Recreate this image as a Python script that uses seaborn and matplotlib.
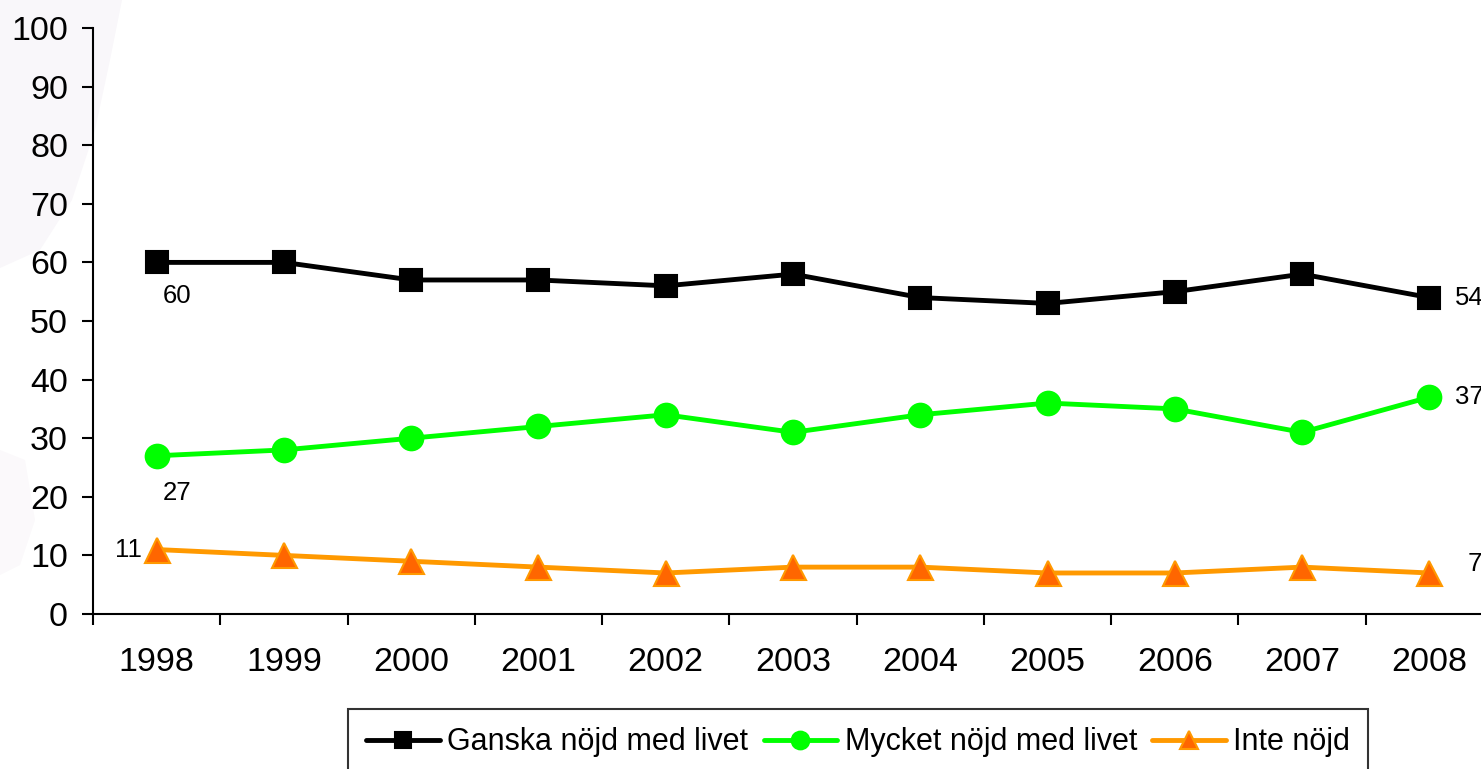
import matplotlib
matplotlib.use("Agg")
import matplotlib.pyplot as plt
from matplotlib.patches import Polygon
import seaborn as sns
import pandas as pd
import numpy as np

years = ["1998", "1999", "2000", "2001", "2002", "2003", "2004", "2005", "2006", "2007", "2008"]
ganska = [60, 60, 57, 57, 56, 58, 54, 53, 55, 58, 54]
mycket = [27, 28, 30, 32, 34, 31, 34, 36, 35, 31, 37]
inte = [11, 10, 9, 8, 7, 8, 8, 7, 7, 8, 7]
series_names = ["Ganska nöjd med livet", "Mycket nöjd med livet", "Inte nöjd"]
y_ticks = list(range(0, 101, 10))

sns.set_theme(style="white")
plt.rcParams["font.family"] = ["Liberation Sans", "DejaVu Sans"]
plt.rcParams["text.color"] = "black"
plt.rcParams["xtick.color"] = "black"
plt.rcParams["ytick.color"] = "black"
plt.rcParams["axes.labelcolor"] = "black"

W, H = 1481, 769
fig = plt.figure(figsize=(W / 100, H / 100), dpi=100)

# faint background decoration (map) on the left
def px(pts):
    return [(x / W, 1 - y / H) for x, y in pts]
fig.patches.append(Polygon(px([(0, 0), (122, 0), (110, 60), (95, 130), (72, 200), (40, 250), (0, 268)]),
                           closed=True, transform=fig.transFigure, facecolor="#f9f7fa", edgecolor="none", zorder=-5))
fig.patches.append(Polygon(px([(0, 450), (25, 460), (35, 520), (20, 565), (0, 575)]),
                           closed=True, transform=fig.transFigure, facecolor="#fbf9fb", edgecolor="none", zorder=-5))

left = 93 / W
bottom = (H - 614) / H
width = 1400 / W
height = 586 / H
ax = fig.add_axes([left, bottom, width, height])
ax.set_facecolor("none")
ax.set_zorder(2)

x = np.arange(len(years))
df = pd.DataFrame({"x": np.tile(x, 3),
                   "value": ganska + mycket + inte,
                   "serie": np.repeat(series_names, len(years))})

styles = {
    series_names[0]: dict(color="black", marker="s", mfc="black", mec="black", ms=16),
    series_names[1]: dict(color="#00ff00", marker="o", mfc="#00ff00", mec="#00ff00", ms=17),
    series_names[2]: dict(color="#ff9900", marker="^", mfc="#ff6600", mec="#ff9900", ms=18),
}
for name in series_names:
    st = styles[name]
    sub = df[df["serie"] == name]
    sns.lineplot(data=sub, x="x", y="value", ax=ax, color=st["color"], linewidth=3.5,
                 marker=st["marker"], markersize=st["ms"], markerfacecolor=st["mfc"],
                 markeredgecolor=st["mec"], markeredgewidth=1.5, label=name, legend=False,
                 clip_on=False, zorder=3)

ax.set_xlim(-0.5, len(years) - 0.5)
ax.set_ylim(0, 100)
ax.set_xlabel("")
ax.set_ylabel("")

ax.set_yticks(y_ticks)
ax.set_yticklabels([str(v) for v in y_ticks], fontsize=24.5)
ax.set_xticks(np.arange(-0.5, len(years), 1.0))
ax.set_xticklabels([])
ax.set_xticks(x, minor=True)
ax.set_xticklabels(years, minor=True, fontsize=24.5)
ax.tick_params(axis="x", which="major", direction="out", length=8, width=1.5, color="black", bottom=True)
ax.tick_params(axis="x", which="minor", length=0, pad=24, bottom=True)
ax.tick_params(axis="y", direction="out", length=8, width=1.5, color="black", pad=10, left=True)

for s in ["top", "right"]:
    ax.spines[s].set_visible(False)
for s in ["left", "bottom"]:
    ax.spines[s].set_color("black")
    ax.spines[s].set_linewidth(1.5)

lab_fs = 18.5
ax.annotate(str(ganska[0]), (x[0], ganska[0]), xytext=(20, -34), textcoords="offset pixels",
            ha="center", va="center", fontsize=lab_fs)
ax.annotate(str(mycket[0]), (x[0], mycket[0]), xytext=(20, -37), textcoords="offset pixels",
            ha="center", va="center", fontsize=lab_fs)
ax.annotate(str(inte[0]), (x[0], inte[0]), xytext=(-28, 0), textcoords="offset pixels",
            ha="center", va="center", fontsize=lab_fs)
ax.annotate(str(ganska[-1]), (x[-1], ganska[-1]), xytext=(26, 0), textcoords="offset pixels",
            ha="left", va="center", fontsize=lab_fs, annotation_clip=False)
ax.annotate(str(mycket[-1]), (x[-1], mycket[-1]), xytext=(26, 0), textcoords="offset pixels",
            ha="left", va="center", fontsize=lab_fs, annotation_clip=False)
ax.annotate(str(inte[-1]), (x[-1], inte[-1]), xytext=(38, 9), textcoords="offset pixels",
            ha="left", va="center", fontsize=lab_fs, annotation_clip=False)

handles, labels = ax.get_legend_handles_labels()
leg = fig.legend(handles, labels, loc="upper left", bbox_to_anchor=(348 / W, 1 - 709 / H),
                 bbox_transform=fig.transFigure, ncol=3, frameon=True, fancybox=False,
                 prop={"family": "Liberation Sans", "size": 22}, handlelength=2.4,
                 handletextpad=0.25, columnspacing=0.5, borderpad=0.6, borderaxespad=0,
                 markerscale=0.75)
leg.get_frame().set_edgecolor("black")
leg.get_frame().set_linewidth(1.5)
leg.set_zorder(5)

fig.savefig("out.png", dpi=100)
